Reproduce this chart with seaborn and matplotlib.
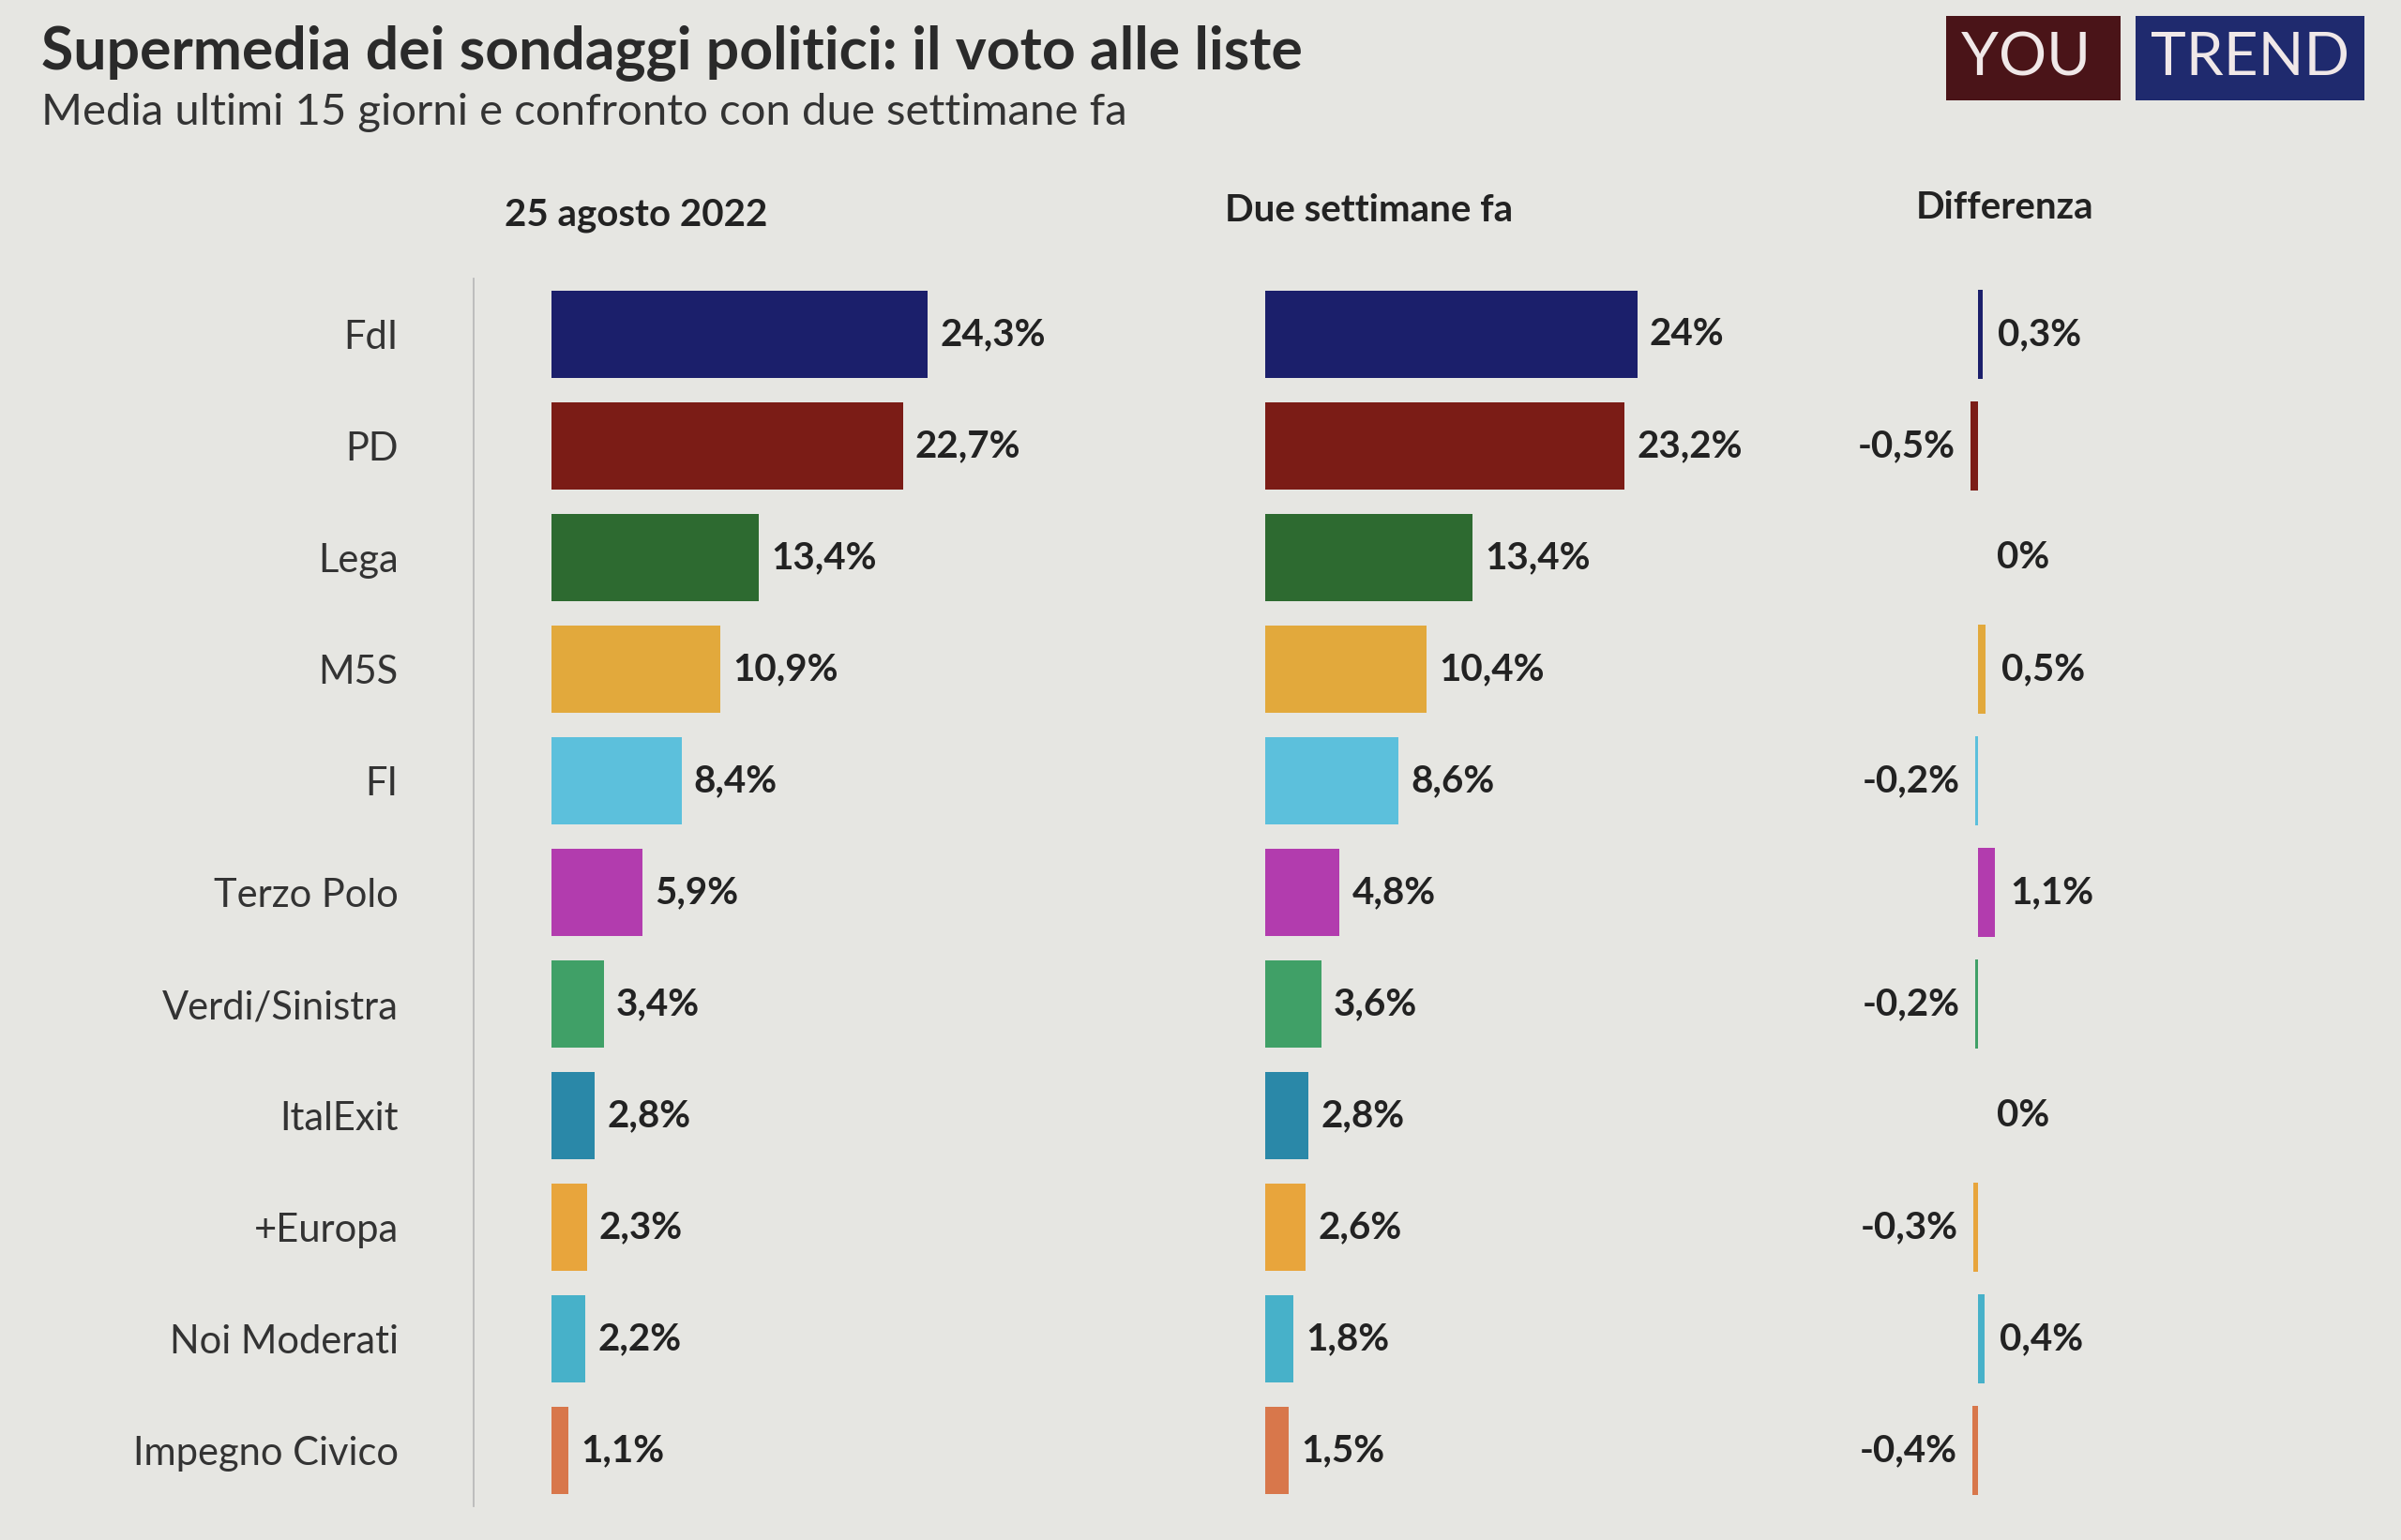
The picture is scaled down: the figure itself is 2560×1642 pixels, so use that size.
import matplotlib
matplotlib.use("Agg")
import matplotlib.pyplot as plt
import seaborn as sns
import pandas as pd

parties = ["FdI", "PD", "Lega", "M5S", "FI", "Terzo Polo", "Verdi/Sinistra",
           "ItalExit", "+Europa", "Noi Moderati", "Impegno Civico"]
current = [24.3, 22.7, 13.4, 10.9, 8.4, 5.9, 3.4, 2.8, 2.3, 2.2, 1.1]
previous = [24.0, 23.2, 13.4, 10.4, 8.6, 4.8, 3.6, 2.8, 2.6, 1.8, 1.5]
diff = [0.3, -0.5, 0.0, 0.5, -0.2, 1.1, -0.2, 0.0, -0.3, 0.4, -0.4]
colors = ["#1b1f6b", "#7b1c16", "#2d6a30", "#e2a93c", "#5cc0dc", "#b23cae",
          "#40a067", "#2a88a8", "#e8a53c", "#47b1c9", "#d8774b"]

def fmt(v):
    s = ("%.1f" % v).replace(".", ",")
    if s.endswith(",0"):
        s = s[:-2]
    return s + "%"

sns.set_theme(style="white")
plt.rcParams['font.family'] = ['Lato', 'DejaVu Sans']
bg = "#e6e6e2"
fig = plt.figure(figsize=(25.6, 16.42), dpi=100, facecolor=bg)

df = pd.DataFrame({"party": parties, "cur": current, "prev": previous, "diff": diff})
pal = dict(zip(parties, colors))

bottom, height = 0.022, 0.797
axes_specs = [(0.2296, 0.20, "cur", (0, 31)),
              (0.527, 0.20, "prev", (0, 31)),
              (0.792, 0.0638, "diff", (-5, 5))]
axs = []
for x0, w, col, xl in axes_specs:
    ax = fig.add_axes([x0, bottom, w, height])
    ax.set_facecolor("none")
    sns.barplot(data=df, y="party", x=col, hue="party", palette=pal, legend=False,
                ax=ax, width=0.78 if col != "diff" else 0.8, saturation=1, linewidth=0)
    ax.set_xlim(*xl)
    ax.set_xlabel(""); ax.set_ylabel("")
    ax.set_xticks([])
    for s in ["top", "right", "bottom", "left"]:
        ax.spines[s].set_visible(False)
    axs.append(ax)

ax1, ax2, ax3 = axs
ax1.spines["left"].set_visible(True)
ax1.spines["left"].set_color("#b8b8b8")
ax1.spines["left"].set_position(("data", -5))
ax1.tick_params(axis="y", length=0, pad=58, labelsize=30, labelcolor="#333333")
ax2.set_yticks([]); ax3.set_yticks([])

kw = dict(va="center", fontsize=29, fontweight="bold", color="#222222")
for i, v in enumerate(current):
    ax1.text(v + 0.8, i, fmt(v), ha="left", **kw)
for i, v in enumerate(previous):
    ax2.text(v + 0.8, i, fmt(v), ha="left", **kw)
for i, v in enumerate(diff):
    if v > 0:
        ax3.text(v + 1.0, i, fmt(v), ha="left", **kw)
    elif v < 0:
        ax3.text(v - 1.0, i, fmt(v), ha="right", **kw)
    else:
        ax3.text(1.2, i, fmt(v), ha="left", **kw)

fig.text(0.017, 0.966, "Supermedia dei sondaggi politici: il voto alle liste", fontsize=45,
         fontweight="bold", color="#2a2a2a", va="center")
fig.text(0.017, 0.927, "Media ultimi 15 giorni e confronto con due settimane fa", fontsize=34,
         color="#333333", va="center")
fig.text(0.265, 0.86, "25 agosto 2022", fontsize=29, fontweight="bold", color="#222222", ha="center", va="center")
fig.text(0.57, 0.863, "Due settimane fa", fontsize=29, fontweight="bold", color="#222222", ha="center", va="center")
fig.text(0.835, 0.865, "Differenza", fontsize=29, fontweight="bold", color="#222222", ha="center", va="center")

fig.text(0.847, 0.962, "YOU ", fontsize=46, color="#f0e8e8", ha="center", va="center",
         bbox=dict(boxstyle="square,pad=0.25", fc="#4a1418", ec="none"))
fig.text(0.937, 0.962, "TREND", fontsize=46, color="#f0e8e8", ha="center", va="center",
         bbox=dict(boxstyle="square,pad=0.25", fc="#1f2a6e", ec="none"))

fig.savefig("out.png", dpi=100, facecolor=bg)
